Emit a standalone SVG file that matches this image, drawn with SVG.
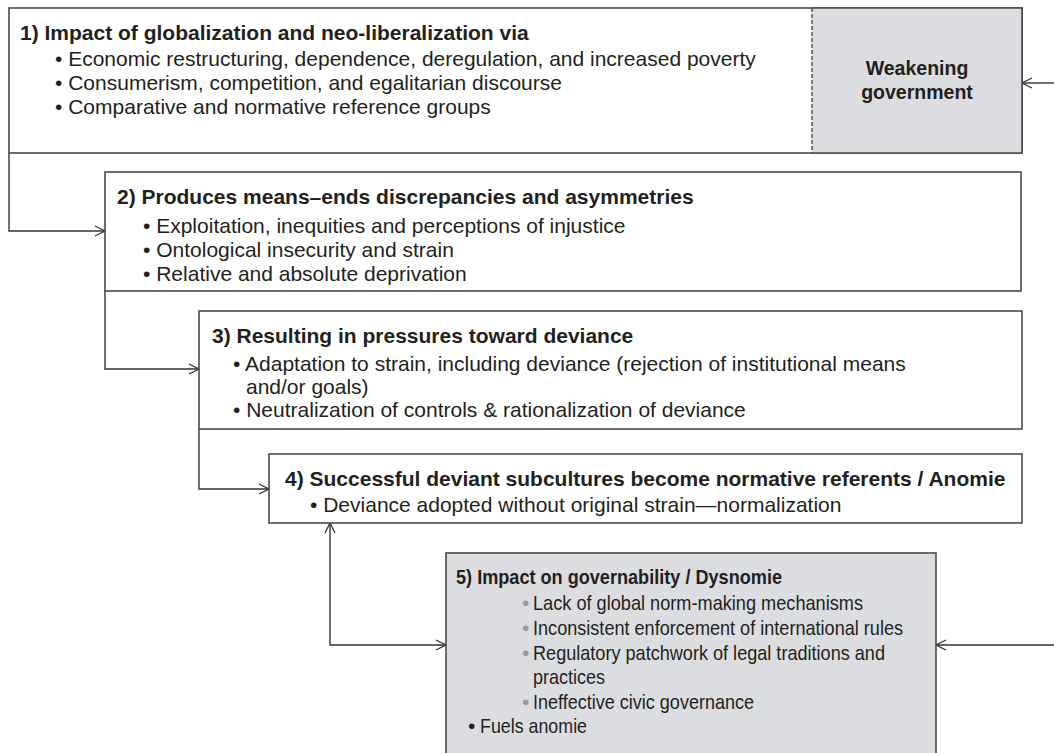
<svg xmlns="http://www.w3.org/2000/svg" width="1054" height="753" viewBox="0 0 1054 753">
<defs>
<style>
.box{fill:#ffffff;stroke:#4a4a4a;stroke-width:1.6}
.grey{fill:#dcdde0;stroke:#4a4a4a;stroke-width:1.6}
.t{font-family:"Liberation Sans",Arial,sans-serif;font-size:21px;fill:#231f20}
.b{font-weight:bold}
.w{font-size:19.5px}
.c{font-size:21px}
.gb{fill:#9a9a9a}
.conn{fill:none;stroke:#333333;stroke-width:1.4}
</style>
<marker id="arr" viewBox="0 0 12 12" refX="11" refY="6" markerWidth="12" markerHeight="12" markerUnits="userSpaceOnUse" orient="auto-start-reverse">
<path d="M1,1 L11,6 L1,11" fill="none" stroke="#333333" stroke-width="1.3"/>
</marker>
</defs>
<rect width="1054" height="753" fill="#ffffff"/>
<g id="connectors">
<path class="conn" d="M9,153 V231 H105" marker-end="url(#arr)"/>
<path class="conn" d="M105,291 V369 H199" marker-end="url(#arr)"/>
<path class="conn" d="M199,429 V489 H269" marker-end="url(#arr)"/>
<path class="conn" d="M330,523 V645 H446" marker-start="url(#arr)" marker-end="url(#arr)"/>
<path class="conn" d="M1054,83 H1022" marker-end="url(#arr)"/>
<path class="conn" d="M1054,645 H936" marker-end="url(#arr)"/>
</g>
<g id="node1">
<rect class="box" x="9" y="8" width="1013" height="145"/>
<text class="t b" x="20" y="40">1) Impact of globalization and neo-liberalization via</text>
<text class="t" x="55" y="66">• Economic restructuring, dependence, deregulation, and increased poverty</text>
<text class="t" x="55" y="90">• Consumerism, competition, and egalitarian discourse</text>
<text class="t" x="55" y="114">• Comparative and normative reference groups</text>
</g>
<g id="node-weakening">
<rect x="812" y="8" width="210" height="145" fill="#dcdde0"/>
<path d="M812,8 V153" stroke="#4a4a4a" stroke-width="1.4" stroke-dasharray="4,2"/>
<path d="M812,8 H1022 V153 H812" fill="none" stroke="#4a4a4a" stroke-width="1.6"/>
<text class="t b w" x="917" y="75" text-anchor="middle">Weakening</text>
<text class="t b w" x="917" y="99" text-anchor="middle">government</text>
</g>
<g id="node2">
<rect class="box" x="105" y="172" width="916" height="119"/>
<text class="t b" x="117" y="204">2) Produces means–ends discrepancies and asymmetries</text>
<text class="t" x="143" y="233">• Exploitation, inequities and perceptions of injustice</text>
<text class="t" x="143" y="257">• Ontological insecurity and strain</text>
<text class="t" x="143" y="281">• Relative and absolute deprivation</text>
</g>
<g id="node3">
<rect class="box" x="199" y="311" width="823" height="118"/>
<text class="t b" x="212" y="343">3) Resulting in pressures toward deviance</text>
<text class="t" x="233" y="371">• Adaptation to strain, including deviance (rejection of institutional means</text>
<text class="t" x="246" y="394">and/or goals)</text>
<text class="t" x="233" y="417">• Neutralization of controls &amp; rationalization of deviance</text>
</g>
<g id="node4">
<rect class="box" x="269" y="454" width="753" height="69"/>
<text class="t b" x="285" y="486">4) Successful deviant subcultures become normative referents / Anomie</text>
<text class="t" x="310" y="512">• Deviance adopted without original strain—normalization</text>
</g>
<g id="node5">
<rect class="grey" x="446" y="553" width="490" height="210"/>
<text class="t b c" x="456" y="584" textLength="326" lengthAdjust="spacingAndGlyphs">5) Impact on governability / Dysnomie</text>
<text class="t c gb" x="522" y="610">•</text>
<text class="t c" x="533" y="610" textLength="330" lengthAdjust="spacingAndGlyphs">Lack of global norm-making mechanisms</text>
<text class="t c gb" x="522" y="635">•</text>
<text class="t c" x="533" y="635" textLength="370" lengthAdjust="spacingAndGlyphs">Inconsistent enforcement of international rules</text>
<text class="t c gb" x="522" y="660">•</text>
<text class="t c" x="533" y="660" textLength="352" lengthAdjust="spacingAndGlyphs">Regulatory patchwork of legal traditions and</text>
<text class="t c" x="533" y="684" textLength="72" lengthAdjust="spacingAndGlyphs">practices</text>
<text class="t c gb" x="522" y="709">•</text>
<text class="t c" x="533" y="709" textLength="221" lengthAdjust="spacingAndGlyphs">Ineffective civic governance</text>
<text class="t c" x="468" y="733">•</text>
<text class="t c" x="480" y="733" textLength="107" lengthAdjust="spacingAndGlyphs">Fuels anomie</text>
</g>
</svg>
